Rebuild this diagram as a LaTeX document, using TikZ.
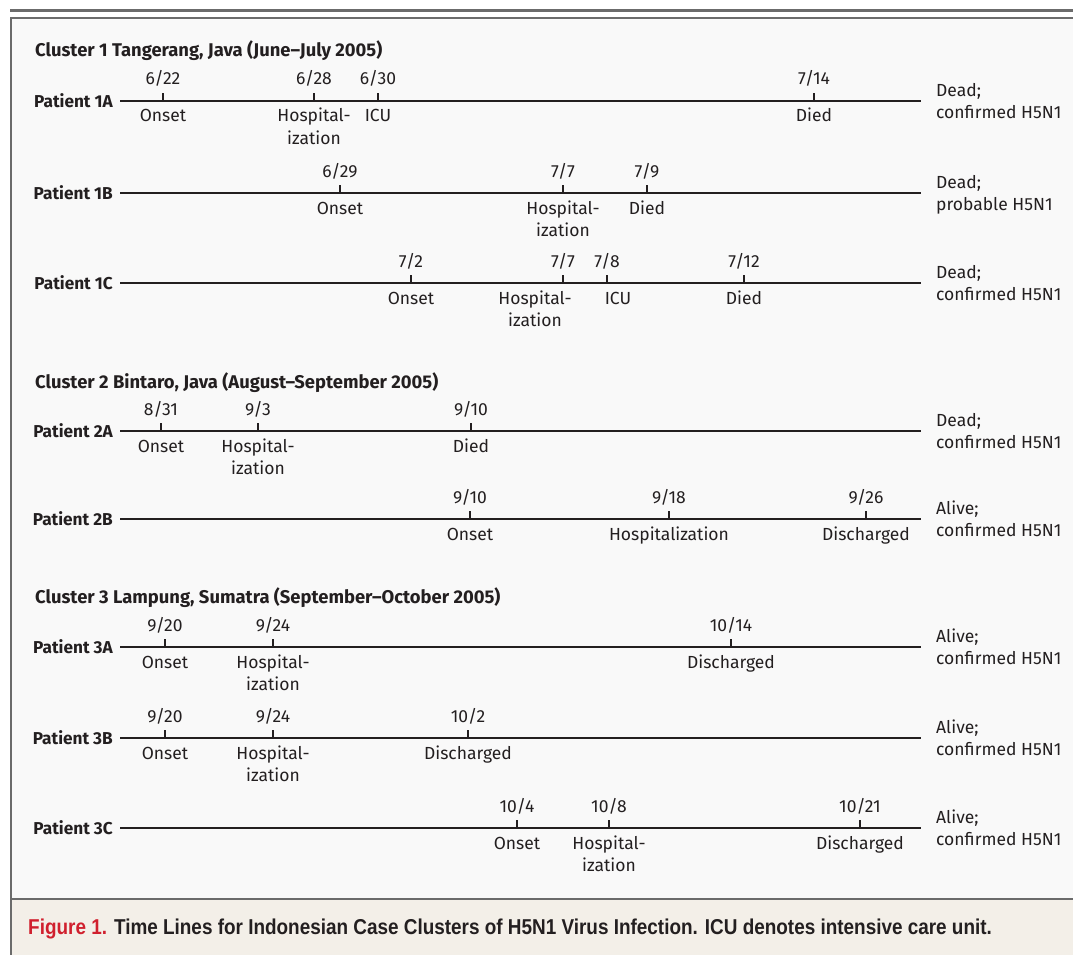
\documentclass[tikz,border=0pt]{standalone}
\usepackage{fontspec}
\setmainfont{Fira Sans}
\newfontfamily\capfont[FakeStretch=0.88]{Liberation Sans}
\definecolor{ink}{HTML}{231F20}
\definecolor{rulegray}{HTML}{6B6B6B}
\definecolor{panel}{HTML}{F9F9F9}
\definecolor{capbg}{HTML}{F3EFE8}
\definecolor{nejmred}{HTML}{D0202E}
\tikzset{
  tl/.style={draw=ink, line width=1.4pt},
  tk/.style={draw=ink, line width=1.2pt},
  dt/.style={anchor=base, inner sep=0pt, text=ink, font=\fontsize{17.5}{22}\selectfont},
  lb/.style={anchor=base, inner sep=0pt, text=ink, align=center, font=\fontsize{17.5}{22}\selectfont},
  lbb/.style={lb, yshift=-22pt},
  st/.style={anchor=base west, inner sep=0pt, text=ink, align=left, font=\fontsize{17.5}{22}\selectfont},
  pat/.style={anchor=east, inner sep=0pt, text=ink, font=\bfseries\fontsize{17.2}{20}\selectfont},
  hd/.style={anchor=base west, inner sep=0pt, text=ink, font=\bfseries\fontsize{18.4}{20}\selectfont},
  frame/.style={draw=rulegray, line width=2.5pt},
}
% one time line: name, y, patient, status
\newcommand{\tlrow}[4]{%
  \node[pat] (#1) at (113,#2) {#3};
  \coordinate (#1a) at (120,#2);
  \coordinate (#1b) at (921,#2);
  \draw[tl] (#1a) -- (#1b);
  \node[st] (#1s) at (936,#2+17.5) {#4};
}
% one event: [label style], name, x, y, date, label
\newcommand{\tlevt}[6][lb]{%
  \coordinate (#2) at (#3,#4);
  \coordinate (#2t) at (#3,#4-8);
  \draw[tk] (#2) -- (#2t);
  \node[dt] (#2d) at (#3,#4-16) {#5};
  \node[#1] (#2l) at (#3,#4+21) {#6};
}
\begin{document}
\begin{tikzpicture}[x=1pt,y=-1pt]
    \useasboundingbox (0,0) rectangle (1073,955);
    \fill[white] (0,0) rectangle (1073,955);
    \fill[panel] (11,18) rectangle (1073,899);
    \fill[capbg] (11,899) rectangle (1073,955);
    \draw[frame] (10,10.5) -- (1073,10.5);
    \draw[frame] (1073,18) -- (11,18) -- (11,955);
    \draw[frame] (11,899) -- (1073,899);

    % cluster 1
    \node[hd] (c1) at (35,57) {Cluster 1 Tangerang, Java (June–July 2005)};
    \tlrow{p1a}{101}{Patient 1A}{Dead;\\confirmed H5N1}
    \tlevt{a1}{163}{101}{6/22}{Onset}
    \tlevt[lbb]{a2}{314}{101}{6/28}{Hospital-\\ization}
    \tlevt{a3}{378}{101}{6/30}{ICU}
    \tlevt{a4}{814}{101}{7/14}{Died}

    \tlrow{p1b}{193}{Patient 1B}{Dead;\\probable H5N1}
    \tlevt{b1}{340}{193}{6/29}{Onset}
    \tlevt[lbb]{b2}{563}{193}{7/7}{Hospital-\\ization}
    \tlevt{b3}{647}{193}{7/9}{Died}

    \tlrow{p1c}{283}{Patient 1C}{Dead;\\confirmed H5N1}
    \tlevt{c1e}{411}{283}{7/2}{Onset}
    \tlevt[lbb, xshift=-28pt]{c2e}{563}{283}{7/7}{Hospital-\\ization}
    \tlevt[lb, xshift=11pt]{c3e}{607}{283}{7/8}{ICU}
    \tlevt{c4e}{744}{283}{7/12}{Died}

    % cluster 2
    \node[hd] (c2) at (35,388) {Cluster 2 Bintaro, Java (August–September 2005)};
    \tlrow{p2a}{431}{Patient 2A}{Dead;\\confirmed H5N1}
    \tlevt{d1}{161}{431}{8/31}{Onset}
    \tlevt[lbb]{d2}{258}{431}{9/3}{Hospital-\\ization}
    \tlevt{d3}{471}{431}{9/10}{Died}

    \tlrow{p2b}{519}{Patient 2B}{Alive;\\confirmed H5N1}
    \tlevt{e1}{470}{519}{9/10}{Onset}
    \tlevt{e2}{669}{519}{9/18}{Hospitalization}
    \tlevt{e3}{866}{519}{9/26}{Discharged}

    % cluster 3
    \node[hd] (c3) at (35,603) {Cluster 3 Lampung, Sumatra (September–October 2005)};
    \tlrow{p3a}{647}{Patient 3A}{Alive;\\confirmed H5N1}
    \tlevt{f1}{165}{647}{9/20}{Onset}
    \tlevt[lbb]{f2}{273}{647}{9/24}{Hospital-\\ization}
    \tlevt{f3}{731}{647}{10/14}{Discharged}

    \tlrow{p3b}{738}{Patient 3B}{Alive;\\confirmed H5N1}
    \tlevt{g1}{165}{738}{9/20}{Onset}
    \tlevt[lbb]{g2}{273}{738}{9/24}{Hospital-\\ization}
    \tlevt{g3}{468}{738}{10/2}{Discharged}

    \tlrow{p3c}{828}{Patient 3C}{Alive;\\confirmed H5N1}
    \tlevt{h1}{517}{828}{10/4}{Onset}
    \tlevt[lbb]{h2}{609}{828}{10/8}{Hospital-\\ization}
    \tlevt{h3}{860}{828}{10/21}{Discharged}

    \node[anchor=base west, inner sep=0pt, text=ink, font=\capfont\bfseries\fontsize{21.5}{24}\selectfont] (fig) at (28,934)
      {\textcolor{nejmred}{Figure 1.} Time Lines for Indonesian Case Clusters of H5N1 Virus Infection. ICU denotes intensive care unit.};
\end{tikzpicture}
\end{document}
